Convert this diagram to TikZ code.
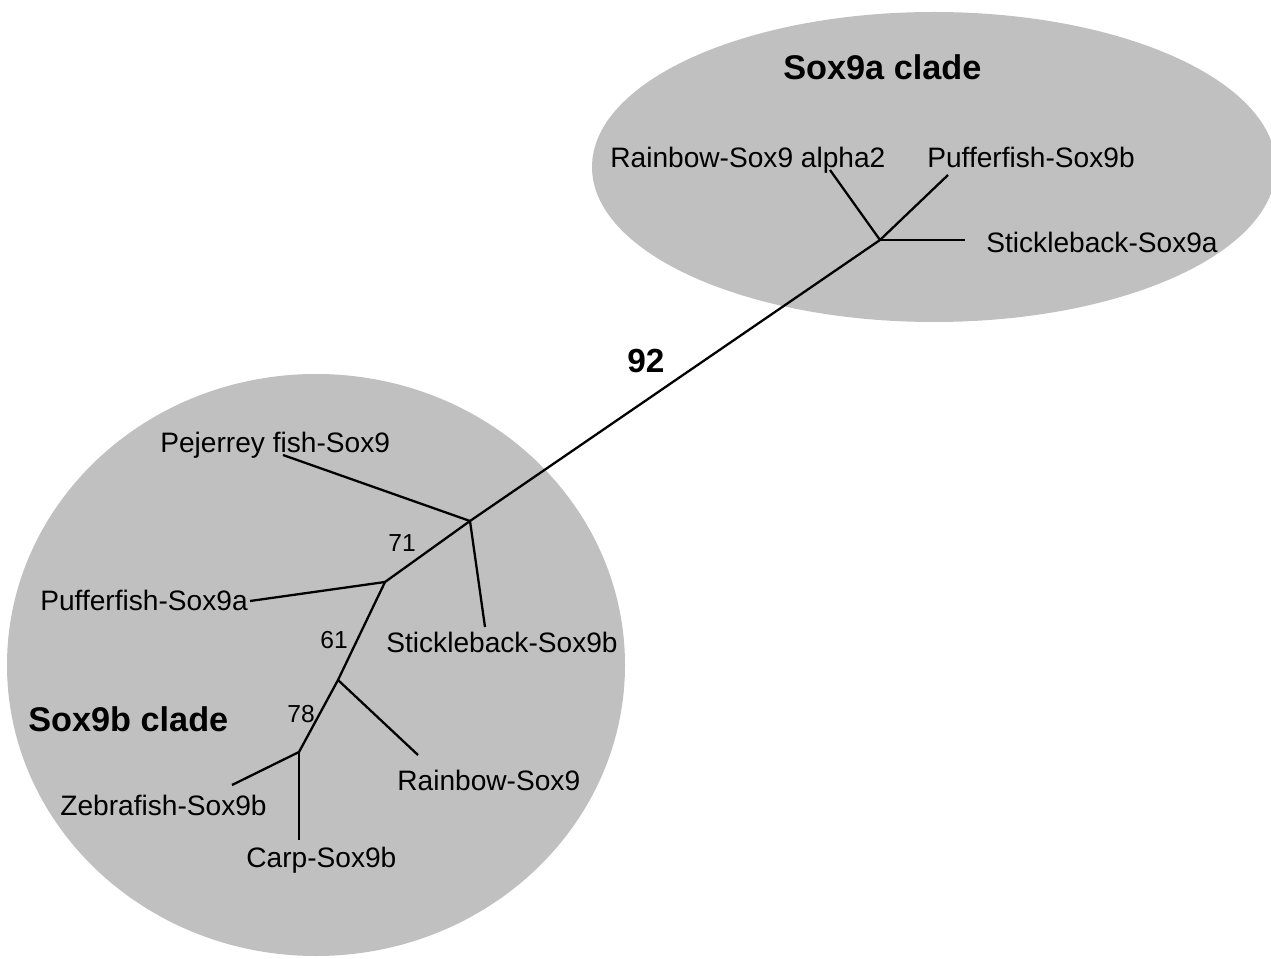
\documentclass[tikz,border=0pt]{standalone}
\usepackage{fontspec}
\setmainfont{Liberation Sans}
\usetikzlibrary{positioning}
\definecolor{cladegray}{RGB}{192,192,192}

\begin{document}
\begin{tikzpicture}[x=0.02cm,y=-0.02cm,
    branch/.style={line width=1.3pt},
    leaf/.style={inner sep=0pt,anchor=base west,font=\fontsize{16}{19}\selectfont},
    boot/.style={inner sep=0pt,anchor=base west,font=\fontsize{14}{17}\selectfont},
    cladename/.style={inner sep=0pt,anchor=base west,font=\fontsize{19.5}{23}\selectfont\bfseries}]
  \useasboundingbox (0,0) rectangle (1271,959);
  % shaded clades
  \fill[cladegray] (934,167) ellipse [x radius=342, y radius=155];
  \fill[cladegray] (316,665) ellipse [x radius=309, y radius=291];
  % internal nodes
  \coordinate (nA) at (880,240);
  \coordinate (nB) at (470,521);
  \coordinate (nC) at (385,582);
  \coordinate (nD) at (338,680);
  \coordinate (nE) at (299,752);
  % branch tips
  \coordinate (tRainA) at (830,170);
  \coordinate (tPuffB) at (948,175);
  \coordinate (tStickA) at (965,240);
  \coordinate (tPej) at (283,455);
  \coordinate (tStickB) at (485,627);
  \coordinate (tPuffA) at (250,601);
  \coordinate (tRain) at (418,755);
  \coordinate (tZebra) at (232,785);
  \coordinate (tCarp) at (299,840);
  % tree
  \draw[branch] (nA) -- (nB) -- (nC) -- (nD) -- (nE);
  \foreach \a/\b in {nA/tRainA,nA/tPuffB,nA/tStickA,nB/tPej,nB/tStickB,
                     nC/tPuffA,nD/tRain,nE/tZebra,nE/tCarp}
    \draw[branch] (\a) -- (\b);
  % leaf labels
  \foreach \n/\p/\t in {lRainA/{610,168}/Rainbow-Sox9 alpha2,
                        lPuffB/{927,168}/Pufferfish-Sox9b,
                        lStickA/{986,253}/Stickleback-Sox9a,
                        lPej/{160,452}/Pejerrey fish-Sox9,
                        lPuffA/{40,610}/Pufferfish-Sox9a,
                        lStickB/{386,652}/Stickleback-Sox9b,
                        lRain/{397,790}/Rainbow-Sox9,
                        lZebra/{60,815}/Zebrafish-Sox9b,
                        lCarp/{246,867}/Carp-Sox9b}
    \node[leaf] (\n) at (\p) {\t};
  % bootstrap values
  \node[cladename,font=\fontsize{19}{23}\selectfont\bfseries] (b92) at (627,373) {92};
  \node[boot] (b71) at (388,551) {71};
  \node[boot] (b61) at (320,648) {61};
  \node[boot] (b78) at (287,722) {78};
  % clade names
  \node[cladename] (cA) at (783,80) {Sox9a clade};
  \node[cladename] (cB) at (28,731) {Sox9b clade};
\end{tikzpicture}
\end{document}
